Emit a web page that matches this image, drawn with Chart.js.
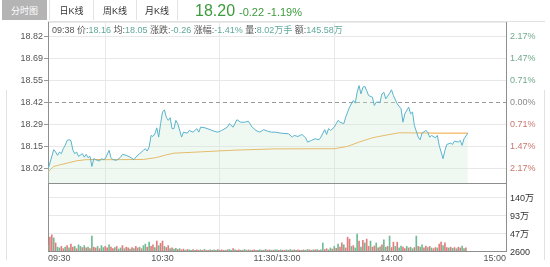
<!DOCTYPE html>
<html>
<head>
<meta charset="utf-8">
<script src="https://cdn.jsdelivr.net/npm/chart.js"></script>
<style>
  body { margin: 0; background: #fff; font-family: 'Liberation Sans', 'Noto Sans CJK SC', sans-serif; }
  #wrap { position: relative; width: 550px; height: 267px; overflow: hidden; }
  #myChart { position: absolute; left: 0; top: 0; }
  .tab { position: absolute; top: 0; height: 20px; line-height: 22px; font-size: 9px; text-align: center; color: #333;
         border-left: 1px solid #e3e3e3; border-right: 1px solid #e3e3e3; box-sizing: border-box; background: #fff; }
  .tab.on { background: #b4b4b4; color: #fff; border: none; }
  .px { position: absolute; top: 2px; left: 195px; font-size: 16px; color: #3c9b3c; }
  .chg { position: absolute; top: 6px; left: 239px; font-size: 11px; color: #3c9b3c; }
  .info { position: absolute; top: 25px; left: 52px; font-size: 9px; line-height: 10px; color: #555; white-space: nowrap; }
  .info b { font-weight: normal; color: #5ea99b; }
  .ln { position: absolute; background: #e2e2e2; }
</style>
</head>
<body>
<div id="wrap">
  <canvas id="myChart" width="550" height="267"></canvas>
  <div class="tab on" style="left:2px;width:45px;">分时图</div>
  <div class="tab" style="left:49px;width:45px;">日K线</div>
  <div class="tab" style="left:93px;width:44px;">周K线</div>
  <div class="tab" style="left:136px;width:42px;">月K线</div>
  <div class="px">18.20</div>
  <div class="chg">-0.22 -1.19%</div>
  <div class="ln" style="left:48px;top:21px;width:497px;height:1px;"></div>
  <div class="ln" style="left:6px;top:90px;width:1px;height:170px;"></div>
  <div class="ln" style="left:544px;top:90px;width:1px;height:170px;"></div>
  <div class="info">09:38 价:<b>18.16</b> 均:<b>18.05</b> 涨跌:<b>-0.26</b> 涨幅:<b>-1.41%</b> 量:<b>8.02万手</b> 额:<b>145.58万</b></div>
</div>
<script>
// minutes since 09:30 (11:30 and 13:00 share index 120)
const timeTicks = [0, 60, 120, 180, 240];
const timeLabels = ['09:30', '10:30', '11:30/13:00', '14:00', '15:00'];

const prevClose = 18.42;
const priceTicks = [18.02, 18.1533, 18.2867, 18.42, 18.5533, 18.6867, 18.82];
const pctLabels = ['2.17%', '1.47%', '0.71%', '0.00%', '0.71%', '1.47%', '2.17%'];

const volTicks = [2600, 468400, 934200, 1400000];
const volLabels = ['2600', '47万', '93万', '140万'];

const priceTime = [
  0, 3, 4, 5, 6, 7, 8, 9, 10, 11, 12, 13, 14, 15, 16, 18, 19, 20, 21, 22,
  23, 24, 25, 27, 28, 29, 30, 32, 33, 34, 36, 38, 39, 41, 43, 45, 46, 48, 50, 51,
  52, 53, 54, 55, 56, 57, 58, 59, 60, 61, 62, 63, 64, 65, 66, 67, 68, 70, 71, 73,
  74, 76, 78, 79, 80, 82, 85, 87, 89, 91, 94, 95, 97, 99, 101, 103, 105, 107, 109, 111,
  113, 115, 117, 119, 122, 126, 128, 129, 131, 133, 135, 136, 138, 140, 142, 143, 145, 146, 147, 148,
  150, 151, 152, 153, 155, 156, 157, 158, 160, 161, 162, 163, 164, 165, 166, 167, 168, 170, 171, 172,
  174, 175, 176, 177, 179, 180, 181, 183, 185, 186, 187, 189, 190, 191, 192, 194, 195, 196, 198, 199,
  200, 201, 203, 204, 205, 207, 208, 209, 211, 212, 213, 215, 216, 217, 218, 220
];
const priceValue = [
  18.015, 18.135, 18.121, 18.101, 18.121, 18.111, 18.141, 18.161, 18.191, 18.195, 18.191, 18.135, 18.111, 18.121, 18.095, 18.111, 18.090, 18.107, 18.087, 18.095,
  18.034, 18.081, 18.075, 18.066, 18.081, 18.075, 18.081, 18.131, 18.087, 18.075, 18.071, 18.090, 18.107, 18.101, 18.090, 18.075, 18.090, 18.111, 18.131, 18.141,
  18.127, 18.151, 18.221, 18.215, 18.231, 18.267, 18.211, 18.292, 18.362, 18.376, 18.331, 18.312, 18.328, 18.262, 18.262, 18.312, 18.292, 18.211, 18.241, 18.235,
  18.251, 18.241, 18.262, 18.241, 18.271, 18.268, 18.256, 18.247, 18.241, 18.251, 18.271, 18.292, 18.271, 18.316, 18.301, 18.301, 18.307, 18.271, 18.251, 18.241,
  18.256, 18.247, 18.241, 18.241, 18.235, 18.231, 18.211, 18.221, 18.215, 18.227, 18.207, 18.181, 18.191, 18.201, 18.195, 18.211, 18.256, 18.227, 18.262, 18.251,
  18.271, 18.292, 18.312, 18.301, 18.292, 18.331, 18.362, 18.392, 18.432, 18.416, 18.482, 18.522, 18.472, 18.512, 18.518, 18.492, 18.462, 18.452, 18.402, 18.422,
  18.422, 18.472, 18.482, 18.442, 18.476, 18.497, 18.462, 18.412, 18.382, 18.301, 18.352, 18.392, 18.352, 18.362, 18.281, 18.211, 18.195, 18.235, 18.251, 18.241,
  18.211, 18.221, 18.207, 18.221, 18.161, 18.081, 18.131, 18.167, 18.175, 18.167, 18.187, 18.181, 18.191, 18.161, 18.201, 18.235
];

const avgTime = [0, 3, 5, 10, 15, 20, 36, 50, 57, 62, 66, 80, 97, 119, 150, 157, 163, 170, 178, 184, 206, 220];
const avgValue = [18.000, 18.034, 18.040, 18.054, 18.068, 18.075, 18.075, 18.076, 18.088, 18.104, 18.114,
  18.122, 18.132, 18.140, 18.141, 18.155, 18.181, 18.207, 18.225, 18.237, 18.235, 18.235];

// volume per minute, in 万手
const volume = [
  16, 36, 42, 34, 21, 10, 8, 12, 6, 10,
  14, 8, 18, 10, 12, 6, 16, 12, 9, 14,
  8, 10, 6, 39, 10, 8, 12, 6, 14, 9,
  12, 8, 16, 10, 6, 9, 12, 5, 8, 14,
  6, 10, 8, 5, 9, 6, 12, 8, 10, 6,
  14, 18, 10, 23, 12, 16, 9, 26, 14, 20,
  26, 12, 9, 14, 6, 8, 5, 7, 4, 6,
  3, 5, 2, 4, 3, 2, 4, 2, 3, 2,
  3, 2, 4, 2, 2, 3, 2, 3, 2, 4,
  2, 3, 2, 2, 3, 4, 2, 6, 3, 2,
  3, 2, 2, 4, 2, 3, 2, 2, 3, 2,
  2, 3, 2, 2, 4, 2, 3, 2, 2, 3,
  3, 2, 3, 2, 2, 3, 2, 4, 2, 3,
  2, 3, 2, 2, 3, 2, 4, 3, 2, 3,
  3, 4, 2, 3, 21, 4, 6, 3, 8, 5,
  12, 7, 18, 10, 21, 16, 8, 36, 31, 12,
  14, 8, 44, 26, 10, 28, 21, 31, 12, 26,
  10, 13, 21, 8, 11, 16, 29, 10, 12, 39,
  9, 23, 12, 23, 8, 13, 10, 6, 12, 8,
  10, 6, 9, 39, 12, 10, 16, 8, 13, 9,
  12, 8, 6, 9, 8, 18, 23, 14, 21, 9,
  8, 10, 7, 9, 6, 10, 8, 13, 6, 8
];
// 1 = up minute (red), 0 = down minute (green)
const volDir =
  '01101001101011010010' + '10101101001101101001' + '01101011010010110101' + '10110100101101001011' +
  '01011010010110100101' + '10100101101001011010' + '01011010010110100110' + '10100110010101101110' +
  '10010101101101010010' + '11010011010010100110' + '10110110110101011001';

const tickFont = { family: "'Liberation Sans', 'Noto Sans CJK SC', sans-serif", size: 9 };
const gridGray = '#e8e8e8';
const edgeGray = '#8e8e8e';
const clear = 'rgba(0,0,0,0)';
const priceMin = 17.934, priceMax = 18.906;
const volMax = 1772000;

const ctx = document.getElementById('myChart');
const myChart = new Chart(ctx, {
    type: 'line',
    data: {
        datasets: [
            {
                label: '价格',
                data: priceTime.map((t, i) => ({x: t, y: priceValue[i]})),
                yAxisID: 'y',
                borderColor: '#5ab3cd',
                borderWidth: 1,
                backgroundColor: 'rgba(205,236,210,0.32)',
                fill: 'start',
                pointRadius: 0,
                tension: 0,
            },
            {
                label: '均价',
                data: avgTime.map((t, i) => ({x: t, y: avgValue[i]})),
                yAxisID: 'y',
                borderColor: '#f0a43a',
                borderWidth: 1,
                fill: false,
                pointRadius: 0,
                tension: 0,
            },
            {
                label: '昨收',
                data: [{x: 0, y: prevClose}, {x: 240, y: prevClose}],
                yAxisID: 'y',
                borderColor: '#9a9a9a',
                borderWidth: 1,
                borderDash: [4, 3],
                fill: false,
                pointRadius: 0,
            },
            {
                type: 'bar',
                label: '成交量',
                data: volume.map((v, i) => ({x: i, y: v * 10000})),
                yAxisID: 'yvr',
                backgroundColor: volume.map((v, i) => volDir[i] === '1' ? '#e27d7d' : '#6fbb94'),
                barThickness: 1,
            }
        ],
    },
    options: {
        responsive: false,
        animation: false,
        layout: { padding: { top: 22, left: 0, right: 0, bottom: 0 } },
        plugins: { legend: { display: false }, tooltip: { enabled: false } },
        scales: {
            x: {
                type: 'linear',
                min: 0,
                max: 240,
                offset: false,
                afterBuildTicks: s => { s.ticks = timeTicks.map(v => ({value: v})); },
                afterFit: s => { s.height = 16; },
                ticks: {
                    callback: (v, i) => timeLabels[i],
                    align: 'inner',
                    autoSkip: false,
                    maxRotation: 0,
                    font: tickFont,
                    color: '#555',
                    padding: 2,
                },
                grid: {
                    color: c => (c.index === 0 || c.index === timeTicks.length - 1) ? clear : gridGray,
                    drawTicks: false,
                },
                border: { color: edgeGray },
            },
            y: {
                position: 'left',
                stack: 'L',
                stackWeight: 161,
                weight: 2,
                min: priceMin,
                max: priceMax,
                afterBuildTicks: s => { s.ticks = [priceMin, ...priceTicks, priceMax].map(v => ({value: v})); },
                afterFit: s => { s.width = 48; },
                ticks: {
                    callback: (v, i) => (i === 0 || i > priceTicks.length) ? '' : priceTicks[i - 1].toFixed(2),
                    autoSkip: false,
                    font: tickFont,
                    color: '#555',
                    padding: 1,
                },
                grid: {
                    color: c => c.index === 0 ? edgeGray : (c.tick.value === prevClose ? clear : gridGray),
                    tickLength: 4,
                    tickColor: c => (c.index === 0 || c.index > priceTicks.length) ? clear : '#999',
                },
                border: { color: edgeGray },
            },
            yv: {
                position: 'left',
                stack: 'L',
                stackWeight: 68,
                weight: 1,
                min: 0,
                max: volMax,
                afterFit: s => { s.width = 48; },
                ticks: { display: false },
                grid: { display: false },
                border: { color: edgeGray },
            },
            yp: {
                position: 'right',
                stack: 'R',
                stackWeight: 161,
                weight: 1,
                min: priceMin,
                max: priceMax,
                afterBuildTicks: s => { s.ticks = priceTicks.map(v => ({value: v})); },
                afterFit: s => { s.width = 44; },
                ticks: {
                    callback: (v, i) => pctLabels[i],
                    autoSkip: false,
                    font: tickFont,
                    color: c => c.index < 3 ? '#c9776f' : (c.index === 3 ? '#8a8a8a' : '#72a98c'),
                    padding: 4,
                },
                grid: { drawOnChartArea: false, drawTicks: false },
                border: { color: edgeGray },
            },
            yvr: {
                position: 'right',
                stack: 'R',
                stackWeight: 68,
                weight: 2,
                min: 0,
                max: volMax,
                afterBuildTicks: s => { s.ticks = volTicks.map(v => ({value: v})); },
                afterFit: s => { s.width = 44; },
                ticks: {
                    callback: (v, i) => volLabels[i],
                    autoSkip: false,
                    font: tickFont,
                    color: '#333',
                    padding: 4,
                    labelOffset: 1.5,
                },
                grid: {
                    color: c => c.index === 0 ? clear : gridGray,
                    drawTicks: false,
                },
                border: { color: edgeGray },
            },
        },
    }
});
</script>
</body>
</html>
